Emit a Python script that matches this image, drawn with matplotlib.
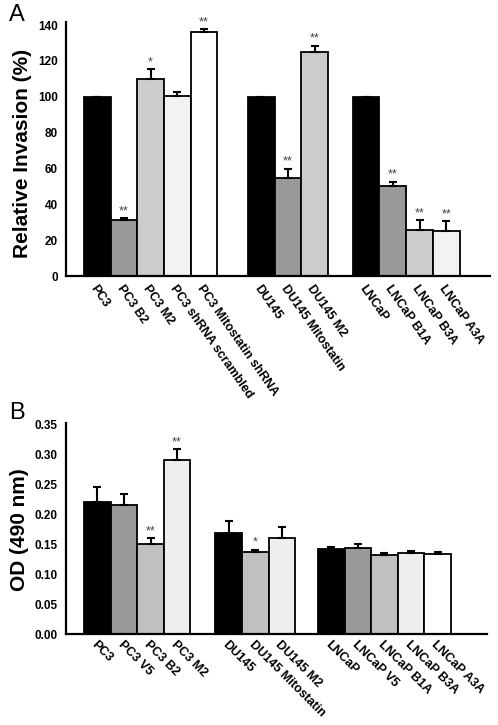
import numpy as np
import matplotlib
matplotlib.use("Agg")
import matplotlib.pyplot as plt
from matplotlib.transforms import ScaledTranslation

plt.rcParams['font.family'] = ['Liberation Sans', 'DejaVu Sans']

# panel A: relative invasion
a_groups = [["PC3", "PC3 B2", "PC3 M2", "PC3 shRNA scrambled", "PC3 Mitostatin shRNA"],
            ["DU145", "DU145 Mitostatin", "DU145 M2"],
            ["LNCaP", "LNCaP B1A", "LNCaP B3A", "LNCaP A3A"]]
a_vals = [100, 31, 109.7, 100.6, 135.9, 100, 54.5, 124.8, 100, 50.4, 25.7, 24.9]
a_err = [0, 1.2, 5.6, 2.2, 1.9, 0, 5.3, 3.7, 0, 2.2, 5.5, 5.6]
a_stars = ["", "**", "*", "", "**", "", "**", "**", "", "**", "**", "**"]
a_cols = ["#000000", "#999999", "#cccccc", "#f2f2f2", "#ffffff",
          "#000000", "#999999", "#cccccc",
          "#000000", "#999999", "#cccccc", "#f2f2f2"]

# panel B: OD 490 nm
b_groups = [["PC3", "PC3 V5", "PC3 B2", "PC3 M2"],
            ["DU145", "DU145 Mitostatin", "DU145 M2"],
            ["LNCaP", "LNCaP V5", "LNCaP B1A", "LNCaP B3A", "LNCaP A3A"]]
b_vals = [0.2205, 0.216, 0.150, 0.290, 0.169, 0.137, 0.160, 0.142, 0.144, 0.132, 0.1345, 0.133]
b_err = [0.025, 0.017, 0.0095, 0.018, 0.019, 0.0035, 0.018, 0.0035, 0.006, 0.0035, 0.0035, 0.0037]
b_stars = ["", "", "**", "**", "", "*", "", "", "", "", "", ""]
b_cols = ["#000000", "#999999", "#c0c0c0", "#eeeeee",
          "#000000", "#c0c0c0", "#eeeeee",
          "#000000", "#999999", "#c0c0c0", "#eeeeee", "#ffffff"]


def positions(groups, gaps):
    xs = []
    x = 0.0
    for g, grp in enumerate(groups):
        for _ in grp:
            xs.append(x)
            x += 1
        if g < len(gaps):
            x += gaps[g]
    return np.array(xs)


def panel(ax, groups, vals, err, stars, cols, gaps, ylim, yticks, fmt, ylabel, xlim,
          star_off, rot, xpad, label_y):
    xs = positions(groups, gaps)
    labels = [l for grp in groups for l in grp]
    ax.bar(xs, vals, width=1.0, color=cols, edgecolor="black", linewidth=1.3, zorder=2)
    ax.errorbar(xs, vals, yerr=[np.zeros(len(vals)), err], fmt="none", ecolor="black",
                elinewidth=1.5, capsize=2.8, capthick=1.5, zorder=3)
    for x, v, e, s in zip(xs, vals, err, stars):
        if s:
            ax.text(x, v + e + star_off, s, ha="center", va="bottom", fontsize=9,
                    color="#444444", zorder=4)
    ax.set_xlim(*xlim)
    ax.set_ylim(*ylim)
    ax.set_yticks(yticks)
    ax.set_yticklabels([fmt.format(t) for t in yticks], fontsize=8.5, fontweight="bold")
    ax.set_xticks(xs)
    ax.set_xticklabels(labels, rotation=rot, ha="left", va="top", rotation_mode="anchor",
                       fontsize=9, fontweight="bold")
    off = ScaledTranslation(-1 / 72, 0, ax.figure.dpi_scale_trans)
    for t in ax.get_xticklabels():
        t.set_transform(t.get_transform() + off)
    ax.tick_params(axis="y", length=0, pad=6)
    ax.tick_params(axis="x", length=0, pad=xpad)
    ax.set_ylabel(ylabel, fontsize=15, fontweight="bold", labelpad=4)
    ax.yaxis.label.set_y(label_y)
    ax.spines["top"].set_visible(False)
    ax.spines["right"].set_visible(False)
    ax.spines["left"].set_linewidth(1.6)
    ax.spines["bottom"].set_linewidth(1.6)


fig = plt.figure(figsize=(4.98, 7.25), dpi=100)
ax1 = fig.add_axes([0.1325, 0.6193, 0.851, 0.3503])
ax2 = fig.add_axes([0.1325, 0.1255, 0.845, 0.291])

panel(ax1, a_groups, a_vals, a_err, a_stars, a_cols, [1.14, 0.93], (0, 141.7),
      np.arange(0, 141, 20), "{:.0f}", "Relative Invasion (%)", (-1.17, 14.7), 0.5,
      -55, 5, 0.484)
panel(ax2, b_groups, b_vals, b_err, b_stars, b_cols, [0.94, 0.86], (0, 0.352),
      np.arange(0, 0.351, 0.05), "{:.2f}", "OD (490 nm)", (-1.18, 14.65), 0.0015,
      -45, 3.5, 0.493)

fig.text(0.018, 0.995, "A", fontsize=17, va="top", ha="left")
fig.text(0.018, 0.446, "B", fontsize=17, va="top", ha="left")

fig.savefig("out.png", dpi=100)
